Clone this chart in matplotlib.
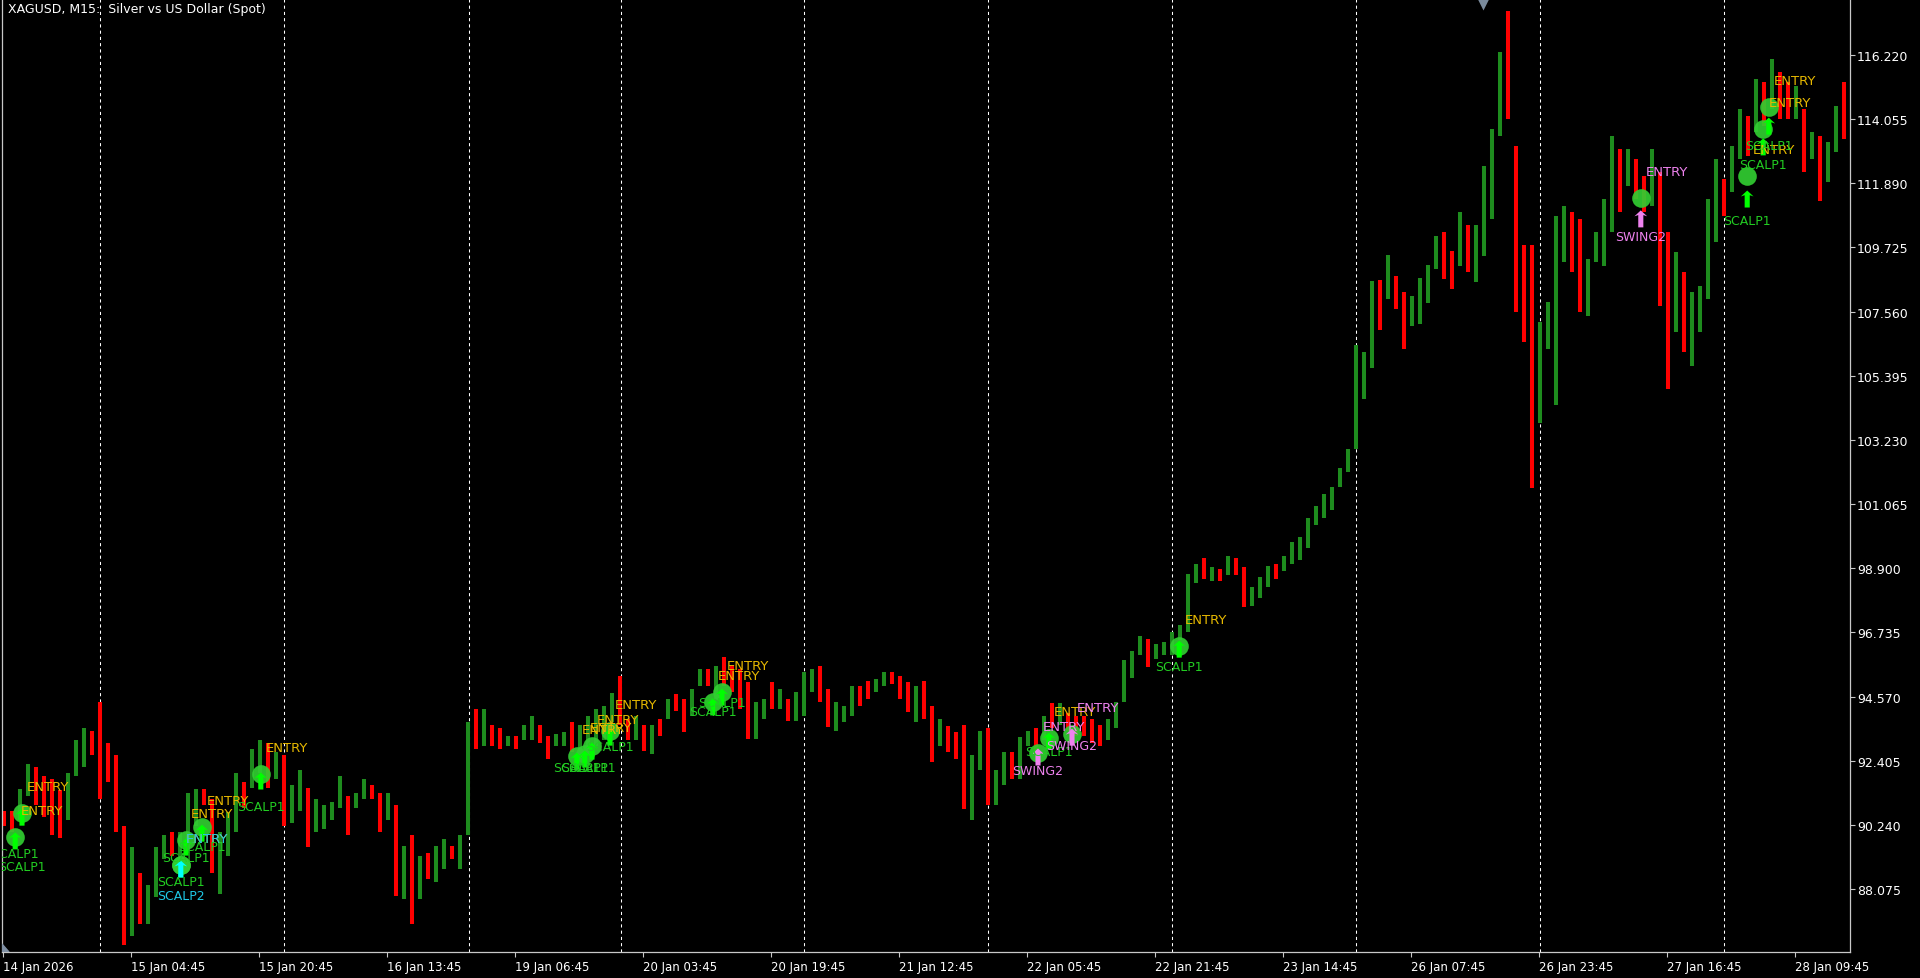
import matplotlib
matplotlib.use('Agg')
import matplotlib.pyplot as plt
from matplotlib.path import Path
import matplotlib.transforms as mtransforms

plt.rcParams['font.family'] = ['DejaVu Sans']

# ---------------- data (hourly aggregates of the XAGUSD M15 chart) ----------------
high = [90.72, 90.70, 91.45, 92.30, 92.20, 91.90, 91.80, 91.40, 92.00, 93.10,
        93.50, 93.40, 94.40, 93.00, 92.60, 90.20, 89.50, 88.60, 88.20, 89.50,
        89.90, 90.00, 90.00, 91.30, 91.45, 91.45, 91.10, 89.99, 90.66, 92.00,
        91.70, 92.80, 93.10, 93.00, 92.70, 92.60, 91.60, 92.10, 91.50, 91.10,
        90.90, 91.00, 91.90, 91.20, 91.30, 91.80, 91.60, 91.30, 91.30, 90.90,
        89.54, 89.90, 89.20, 89.30, 89.54, 89.76, 89.54, 89.90, 93.70, 94.15,
        94.15, 93.60, 93.50, 93.25, 93.25, 93.60, 93.90, 93.60, 93.25, 93.30,
        93.36, 93.70, 93.60, 93.90, 94.15, 94.26, 94.70, 95.27, 93.80, 93.90,
        93.60, 93.60, 93.80, 94.49, 94.65, 94.49, 94.82, 95.50, 95.50, 95.60,
        95.89, 95.61, 95.50, 95.05, 94.37, 94.49, 95.05, 94.82, 94.49, 94.71,
        95.39, 95.50, 95.61, 94.82, 94.37, 94.26, 94.94, 94.94, 95.10, 95.16,
        95.39, 95.39, 95.27, 95.05, 94.94, 95.10, 94.26, 93.81, 93.59, 93.36,
        93.60, 92.60, 93.40, 93.50, 92.10, 92.70, 92.70, 93.20, 93.40, 93.50,
        93.90, 94.35, 94.35, 94.00, 93.90, 93.90, 93.80, 93.60, 93.80, 94.40,
        95.80, 96.10, 96.60, 96.50, 96.35, 96.40, 96.74, 96.99, 98.70, 99.06,
        99.25, 98.93, 98.87, 99.32, 99.25, 98.93, 98.28, 98.61, 98.99, 99.06,
        99.32, 99.77, 99.96, 100.61, 101.00, 101.39, 101.64, 102.29, 102.94, 106.42,
        106.20, 108.60, 108.62, 109.46, 108.75, 108.23, 108.10, 108.68, 109.14, 110.10,
        110.24, 109.60, 110.91, 110.50, 110.50, 112.49, 113.72, 116.31, 117.72, 113.16,
        109.80, 109.80, 107.20, 107.87, 110.80, 111.14, 110.91, 110.69, 109.34, 110.24,
        111.36, 113.50, 113.05, 113.05, 112.71, 112.15, 113.05, 112.26, 110.24, 109.56,
        108.89, 108.21, 108.44, 111.36, 112.71, 112.04, 113.16, 114.40, 114.17, 115.41,
        115.30, 116.09, 115.64, 115.30, 115.19, 114.40, 113.61, 113.50, 113.27, 114.51,
        115.30]

low = [90.20, 90.00, 90.40, 91.20, 90.90, 90.50, 89.90, 89.80, 90.40, 91.90,
       92.20, 92.60, 91.10, 91.70, 90.00, 86.20, 86.50, 86.90, 86.90, 87.80,
       89.10, 89.20, 88.90, 89.30, 90.20, 90.90, 88.60, 87.90, 89.20, 89.99,
       90.80, 91.50, 92.00, 91.50, 91.80, 90.20, 90.30, 90.70, 89.50, 90.00,
       90.10, 90.40, 90.80, 89.90, 90.80, 91.10, 91.10, 90.00, 90.40, 87.85,
       87.74, 86.90, 87.74, 88.40, 88.30, 88.75, 89.10, 88.75, 89.90, 92.80,
       92.90, 92.90, 92.80, 92.90, 92.80, 93.10, 93.10, 93.00, 92.46, 92.90,
       92.90, 92.70, 92.60, 92.80, 92.90, 93.10, 93.70, 93.60, 93.10, 93.10,
       92.74, 92.63, 93.25, 93.80, 94.09, 93.36, 93.90, 94.94, 94.94, 94.50,
       94.94, 94.71, 94.15, 93.14, 93.14, 93.81, 94.15, 94.15, 93.75, 93.75,
       93.92, 94.71, 94.37, 93.53, 93.42, 93.70, 93.92, 94.26, 94.49, 94.71,
       94.94, 94.99, 94.49, 94.04, 93.70, 93.81, 92.35, 92.91, 92.69, 92.46,
       90.77, 90.40, 92.10, 90.90, 90.90, 91.60, 91.80, 91.80, 92.90, 92.70,
       93.10, 93.50, 93.60, 93.40, 93.25, 93.25, 93.00, 92.90, 93.10, 93.50,
       94.40, 95.20, 95.96, 95.57, 95.83, 95.96, 95.96, 96.48, 96.74, 98.41,
       98.54, 98.48, 98.48, 98.67, 98.67, 97.58, 97.64, 97.90, 98.28, 98.54,
       98.80, 99.06, 99.19, 99.58, 100.35, 100.61, 100.87, 101.64, 102.16, 102.94,
       104.60, 105.65, 106.94, 107.97, 107.65, 106.29, 107.07, 107.13, 107.84, 109.01,
       108.66, 108.32, 109.10, 108.90, 108.55, 109.45, 110.69, 113.50, 114.06, 107.54,
       106.52, 101.60, 103.80, 106.30, 104.40, 109.22, 108.89, 107.54, 107.42, 109.22,
       109.11, 110.24, 110.91, 111.81, 111.36, 110.91, 111.14, 107.76, 104.95, 106.86,
       106.19, 105.74, 106.86, 107.99, 109.90, 110.80, 111.60, 112.71, 112.82, 113.61,
       113.84, 114.40, 114.06, 114.06, 114.06, 112.26, 112.71, 111.30, 111.92, 112.94,
       113.39]

close = [90.50, 90.40, 91.30, 92.00, 91.30, 91.10, 91.00, 90.60, 91.80, 92.90,
         93.10, 93.00, 92.80, 92.50, 90.40, 87.60, 87.80, 87.50, 88.00, 89.30,
         89.70, 89.40, 89.80, 91.10, 91.20, 91.00, 89.00, 89.50, 90.50, 91.80,
         91.40, 92.60, 92.60, 91.80, 92.30, 90.60, 91.00, 91.90, 90.00, 90.50,
         90.60, 90.90, 91.20, 90.60, 91.10, 91.60, 91.40, 90.40, 90.60, 88.40,
         88.90, 87.30, 88.90, 88.80, 89.20, 89.50, 89.30, 89.80, 93.30, 93.20,
         93.90, 93.20, 93.00, 93.10, 92.90, 93.40, 93.50, 93.10, 92.80, 93.10,
         93.30, 93.00, 93.30, 93.60, 94.00, 94.20, 94.60, 93.90, 93.30, 93.50,
         92.90, 93.50, 93.40, 94.40, 94.30, 93.70, 94.70, 95.40, 95.10, 95.20,
         95.10, 94.90, 94.40, 93.60, 94.20, 94.40, 94.30, 94.60, 93.90, 94.50,
         95.20, 95.40, 94.60, 93.80, 93.90, 94.20, 94.80, 94.70, 94.60, 95.10,
         95.30, 95.10, 94.70, 94.30, 94.50, 93.90, 92.60, 93.10, 92.90, 92.60,
         91.20, 92.30, 93.20, 91.30, 91.60, 92.50, 92.20, 92.90, 93.30, 93.20,
         93.80, 93.70, 93.80, 93.70, 93.40, 93.30, 93.10, 93.00, 93.60, 94.30,
         95.60, 95.90, 96.20, 95.80, 95.90, 96.20, 96.60, 96.90, 98.50, 98.80,
         98.70, 98.80, 98.70, 99.20, 98.90, 97.90, 98.00, 98.50, 98.90, 98.80,
         99.20, 99.60, 99.80, 100.40, 100.80, 100.90, 101.50, 102.20, 102.80, 105.50,
         106.00, 108.30, 108.10, 108.50, 107.90, 106.80, 107.60, 108.30, 109.00, 109.90,
         109.00, 108.70, 110.70, 109.40, 109.80, 112.30, 113.50, 116.00, 114.40, 108.00,
         107.00, 104.20, 106.60, 106.90, 110.50, 110.50, 109.30, 107.90, 108.00, 110.00,
         110.80, 112.50, 111.60, 112.80, 111.90, 111.30, 112.60, 108.30, 105.80, 109.20,
         106.80, 107.60, 108.20, 111.00, 112.50, 111.20, 113.00, 114.20, 113.90, 115.20,
         114.40, 115.00, 114.30, 114.20, 114.70, 112.60, 113.10, 111.90, 112.90, 114.30,
         114.00]
first_open = 90.60

price_ticks = [88.075, 90.240, 92.405, 94.570, 96.735, 98.900, 101.065,
               103.230, 105.395, 107.560, 109.725, 111.890, 114.055, 116.220]

time_labels = ['14 Jan 2026', '15 Jan 04:45', '15 Jan 20:45', '16 Jan 13:45',
               '19 Jan 06:45', '20 Jan 03:45', '20 Jan 19:45', '21 Jan 12:45',
               '22 Jan 05:45', '22 Jan 21:45', '23 Jan 14:45', '26 Jan 07:45',
               '26 Jan 23:45', '27 Jan 16:45', '28 Jan 09:45']
bars_per_label = 16

day_breaks = [12.0, 35.0, 58.1, 77.1, 100.0, 123.0, 146.0, 169.0, 192.0, 215.0]

# signals: bar position, type, entry price (circle), arrow price, label price
sig_bar = [1.4, 2.25, 22.1, 22.1, 22.75, 24.75, 32.1, 71.6, 72.6, 73.5, 75.75,
           88.6, 89.75, 129.25, 130.6, 133.5, 146.9, 204.6, 217.9, 219.9, 220.6]
sig_type = ['SCALP1', 'SCALP1', 'SCALP1', 'SCALP2', 'SCALP1', 'SCALP1', 'SCALP1',
            'SCALP1', 'SCALP1', 'SCALP1', 'SCALP1', 'SCALP1', 'SCALP1', 'SWING2',
            'SCALP1', 'SWING2', 'SCALP1', 'SWING2', 'SCALP1', 'SCALP1', 'SCALP1']
sig_entry = [89.83, 90.64, 88.88, 88.88, 89.73, 90.17, 91.95, 92.56, 92.63, 92.90,
             93.40, 94.38, 94.72, 92.66, 93.17, 93.30, 96.27, 111.39, 112.14,
             113.72, 114.46]
sig_arrow = [89.70, 90.50, 88.75, 88.75, 89.49, 89.96, 91.72, 92.39, 92.46, 92.73,
             93.20, 94.22, 94.55, 92.53, 93.07, 93.20, 96.17, 110.69, 111.36,
             113.12, 113.82]
sig_label = [89.29, 88.82, 88.34, 87.87, 89.15, 89.52, 90.87, 92.16, 92.16, 92.16,
             92.90, 94.08, 94.38, 92.06, 92.73, 92.93, 95.60, 110.11, 110.65,
             112.54, 113.18]

session_marker_bar = 184.9

# ---------------- styles ----------------
BG = '#000000'
FG = '#FFFFFF'
AXC = '#C8C8C8'
UP = '#1E8C1E'
DOWN = '#FF0000'
CIRCLE = '#32CD32'
arrow_col = {'SCALP1': '#00FF00', 'SCALP2': '#00FFFF', 'SWING2': '#EE82EE'}
name_col = {'SCALP1': '#22CC22', 'SCALP2': '#1EC8E6', 'SWING2': '#EE82EE'}
entry_col = {'SCALP1': '#E6B800', 'SCALP2': '#1EC8E6', 'SWING2': '#EE82EE'}

W, H = 1920, 979
fig = plt.figure(figsize=(W / 100, H / 100), dpi=100, facecolor=BG)
ax = fig.add_axes([2 / W, 26 / H, 1848 / W, 953 / H])
ax.set_facecolor(BG)
ax.set_xlim(-0.25, 230.75)
ax.set_ylim(85.95, 118.11)

# day separators
for d in day_breaks:
    ax.axvline(d, color=FG, lw=0.75, ls=(0, (3, 3)), zorder=1)

# bars
n = len(high)
xs = list(range(n))
opens = [first_open] + close[:-1]
cols = [UP if c >= o else DOWN for o, c in zip(opens, close)]
ax.vlines(xs, low, high, colors=cols, linewidth=2.9, zorder=2)

# signals
arrow_path = Path([(0, 1), (0.75, 0.3), (0.3, 0.45), (0.3, -1), (-0.3, -1),
                   (-0.3, 0.45), (-0.75, 0.3), (0, 1)],
                  [Path.MOVETO] + [Path.LINETO] * 6 + [Path.CLOSEPOLY])

ax.scatter(sig_bar, sig_entry, s=180, color=CIRCLE, alpha=0.92, linewidths=0, zorder=3)
ax.scatter(sig_bar, sig_arrow, s=150, marker=arrow_path,
           c=[arrow_col[t] for t in sig_type], linewidths=0, zorder=4)
for b, t, e, lp in zip(sig_bar, sig_type, sig_entry, sig_label):
    ax.text(b, lp, t, color=name_col[t], fontsize=9, ha='center', va='center',
            zorder=5, clip_on=True)
    ax.annotate('ENTRY', (b, e), xytext=(19, 19), textcoords='offset points',
                color=entry_col[t], fontsize=9.5, ha='center', va='center',
                zorder=5, annotation_clip=True)

# session marker at top
trans = mtransforms.blended_transform_factory(ax.transData, ax.transAxes)
ax.plot([session_marker_bar], [1 - 4 / 953], marker='v', ms=10, color='#7A8A9C',
        mec='none', transform=trans, clip_on=False, zorder=6)
ax.fill([0, 0, 7 / 1848], [0, 8 / 953, 0], transform=ax.transAxes, color='#8090A4',
        zorder=6)

# axes styling
ax.spines['top'].set_visible(False)
for side in ['right', 'bottom', 'left']:
    ax.spines[side].set_color(AXC)
    ax.spines[side].set_linewidth(0.9)

ax.yaxis.tick_right()
ax.set_yticks(price_ticks)
ax.set_yticklabels([f'{v:.3f}' for v in price_ticks])
ax.tick_params(axis='y', direction='out', length=3.6, width=0.8, color=AXC,
               labelcolor=FG, labelsize=9, pad=1.5)

xt = [bars_per_label * i - 0.125 for i in range(len(time_labels))]
ax.set_xticks(xt)
ax.set_xticklabels(time_labels)
for lbl in ax.get_xticklabels():
    lbl.set_horizontalalignment('left')
ax.tick_params(axis='x', direction='out', length=3.6, width=0.8, color=AXC,
               labelcolor=FG, labelsize=8.5, pad=2)

fig.text(8 / W, 1 - 10 / H, 'XAGUSD, M15:  Silver vs US Dollar (Spot)', color=FG,
         fontsize=9, ha='left', va='center')

fig.savefig('out.png', dpi=100, facecolor=BG)
